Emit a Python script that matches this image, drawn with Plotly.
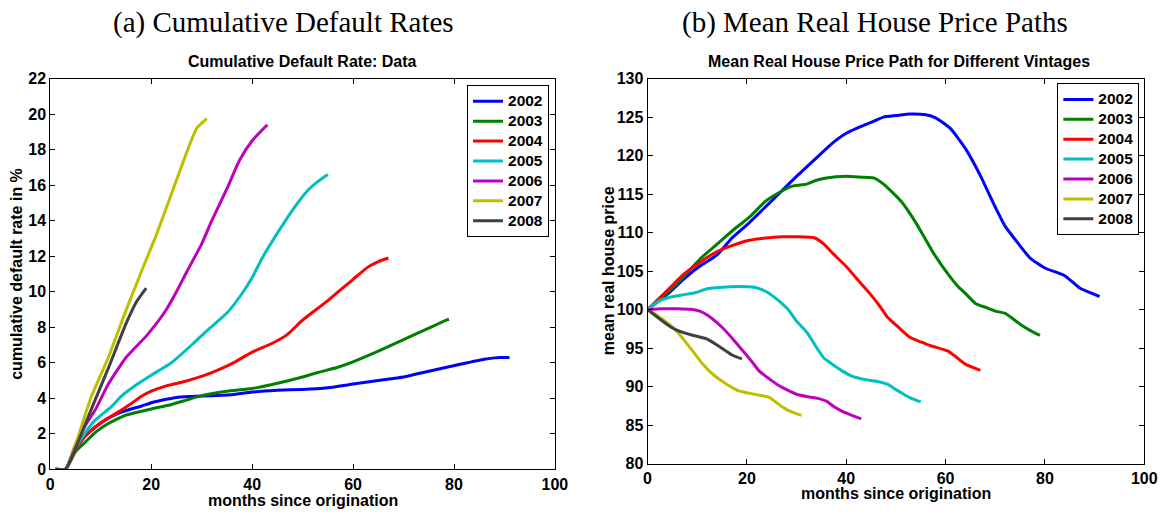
import plotly.graph_objects as go

W, H = 1176, 518

years = ["2002", "2003", "2004", "2005", "2006", "2007", "2008"]
colors = ["#0000FF", "#008000", "#FF0000", "#00BFBF", "#BF00BF", "#BFBF00", "#404040"]

# ---- Panel (a): cumulative default rate (%) by months since origination
def_m_2002 = [1, 3, 5, 7, 9, 11, 13, 16, 18, 20, 23, 25, 28, 32, 36, 40, 45, 50, 55, 60, 65, 70, 73, 77, 81, 86, 89, 91]
def_v_2002 = [0, 0, 1.1, 1.9, 2.4, 2.8, 3.1, 3.4, 3.55, 3.75, 3.95, 4.05, 4.1, 4.15, 4.2, 4.35, 4.45, 4.5, 4.6, 4.8, 5.0, 5.2, 5.4, 5.65, 5.9, 6.2, 6.3, 6.3]
def_m_2003 = [1, 3, 5, 7, 9, 11, 13, 15, 17, 20, 24, 27, 30, 35, 40, 45, 50, 53, 57, 60, 65, 70, 75, 78, 79]
def_v_2003 = [0, 0, 1.0, 1.55, 2.1, 2.5, 2.8, 3.05, 3.2, 3.4, 3.65, 3.9, 4.15, 4.4, 4.55, 4.85, 5.2, 5.45, 5.75, 6.05, 6.65, 7.3, 7.95, 8.35, 8.45]
def_m_2004 = [1, 3, 5, 7, 9, 11, 13, 16, 18, 20, 23, 26, 29, 32, 36, 40, 44, 47, 50, 55, 60, 63, 65, 67]
def_v_2004 = [0, 0, 1.1, 1.9, 2.4, 2.8, 3.15, 3.7, 4.1, 4.4, 4.7, 4.9, 5.15, 5.45, 5.95, 6.6, 7.1, 7.6, 8.4, 9.5, 10.7, 11.4, 11.7, 11.9]
def_m_2005 = [1, 3, 5, 7, 9, 12, 14, 17, 20, 24, 28, 31, 35, 38, 40, 42, 45, 48, 51, 53, 55]
def_v_2005 = [0, 0, 1.2, 2.1, 2.8, 3.5, 4.1, 4.75, 5.3, 6.0, 7.0, 7.8, 8.8, 9.9, 10.8, 11.9, 13.3, 14.6, 15.7, 16.2, 16.6]
def_m_2006 = [1, 3, 5, 7, 9, 11.5, 15, 19, 21, 23, 25, 27, 30, 32, 35, 37.5, 40, 43]
def_v_2006 = [0, 0, 1.4, 2.5, 3.4, 4.8, 6.3, 7.5, 8.2, 9.0, 10.0, 11.1, 12.7, 14.0, 15.8, 17.4, 18.5, 19.4]
def_m_2007 = [1, 3, 5, 8, 11.5, 15, 18, 21, 24.5, 27.5, 29, 31]
def_v_2007 = [0, 0, 1.4, 4.0, 6.3, 8.95, 11.1, 13.2, 15.9, 18.2, 19.2, 19.75]
def_m_2008 = [1, 3, 5, 8, 11.5, 15, 17, 19]
def_v_2008 = [0, 0, 1.2, 3.3, 5.7, 8.2, 9.4, 10.2]

# ---- Panel (b): mean real house price path (index, origination = 100)
hp_m_2002 = [0, 4, 7, 10, 14, 17, 20, 24, 27, 30, 34, 37, 40, 43, 45, 47.5, 50, 53, 56, 58, 61, 64, 67, 70, 72, 74, 77, 80, 84, 87, 91]
hp_v_2002 = [100, 102, 103.8, 105.4, 107.1, 109.3, 111.0, 113.5, 115.4, 117.3, 119.7, 121.5, 122.9, 123.8, 124.3, 125.0, 125.2, 125.4, 125.3, 124.9, 123.5, 120.9, 117.4, 113.3, 110.8, 109.1, 106.7, 105.4, 104.4, 102.8, 101.7]
hp_m_2003 = [0, 4, 7, 10.6, 14, 17.2, 20.5, 23.8, 26.5, 29, 32, 34, 36, 40, 43, 45.5, 47.5, 51, 54, 57.5, 60.5, 62.5, 64, 66, 68, 70, 72, 75, 77, 79]
hp_v_2003 = [100, 102.2, 104.1, 106.6, 108.5, 110.3, 112.0, 114.1, 115.2, 116.0, 116.3, 116.8, 117.1, 117.3, 117.2, 117.1, 116.3, 114.1, 111.3, 107.4, 104.6, 103.0, 102.1, 100.8, 100.3, 99.8, 99.5, 98.1, 97.3, 96.65]
hp_m_2004 = [0, 4, 7.3, 10, 13.9, 17, 20.5, 23.8, 27, 30, 33.7, 35.5, 37.6, 40, 42, 44.6, 46.8, 48.3, 50, 52.8, 55, 57, 60.5, 62, 64, 67]
hp_v_2004 = [100, 102.5, 104.6, 105.9, 107.5, 108.3, 109.0, 109.3, 109.45, 109.45, 109.3, 108.5, 107.1, 105.6, 104.1, 102.2, 100.4, 99.0, 98.0, 96.4, 95.8, 95.3, 94.6, 93.9, 92.9, 92.1]
hp_m_2005 = [0, 2, 4.5, 7, 9.7, 12, 15, 18, 21.5, 23, 24.5, 26.5, 28.3, 30, 32, 34.2, 35.5, 37.2, 39, 41, 43.9, 46, 48.3, 50, 51.3, 53, 55]
hp_v_2005 = [100, 101, 101.6, 101.9, 102.2, 102.7, 102.9, 103.0, 102.9, 102.6, 102.1, 101.1, 100.0, 98.5, 97.1, 94.9, 93.7, 92.9, 92.1, 91.4, 90.9, 90.7, 90.3, 89.6, 89.1, 88.5, 88.0]
hp_m_2006 = [0, 3, 6, 9, 10.5, 12, 15, 17.8, 20.8, 22.5, 24.5, 26.5, 28.3, 30, 32, 34, 36, 37.5, 39.4, 41, 43]
hp_v_2006 = [100, 100.1, 100.1, 100.0, 99.8, 99.3, 97.7, 95.7, 93.4, 92.0, 91.0, 90.1, 89.5, 89.0, 88.7, 88.5, 88.1, 87.4, 86.7, 86.3, 85.8]
hp_m_2007 = [0, 2, 4.5, 6, 7.5, 9, 10.5, 12, 13.5, 15, 17, 18.5, 21.5, 24.5, 26, 27.5, 29, 31]
hp_v_2007 = [100, 99.2, 98.0, 97.1, 95.9, 94.7, 93.4, 92.3, 91.4, 90.7, 89.9, 89.4, 89.0, 88.6, 87.9, 87.2, 86.7, 86.25]
hp_m_2008 = [0, 2, 4.5, 6, 8.9, 11.9, 13.5, 15.6, 17, 19]
hp_v_2008 = [100, 99.0, 97.8, 97.3, 96.7, 96.2, 95.6, 94.7, 94.1, 93.6]

def_series = [(def_m_2002, def_v_2002), (def_m_2003, def_v_2003), (def_m_2004, def_v_2004),
              (def_m_2005, def_v_2005), (def_m_2006, def_v_2006), (def_m_2007, def_v_2007),
              (def_m_2008, def_v_2008)]
hp_series = [(hp_m_2002, hp_v_2002), (hp_m_2003, hp_v_2003), (hp_m_2004, hp_v_2004),
             (hp_m_2005, hp_v_2005), (hp_m_2006, hp_v_2006), (hp_m_2007, hp_v_2007),
             (hp_m_2008, hp_v_2008)]

x_ticks = [0, 20, 40, 60, 80, 100]
def_ticks = list(range(0, 23, 2))
hp_ticks = list(range(80, 131, 5))

def leg_label(yr):
    return '<span style="font-size:15.5px">' + yr + '</span>'

fig = go.Figure()
for yr, c, (m, v) in zip(years, colors, def_series):
    fig.add_trace(go.Scatter(x=m, y=v, mode="lines", name=leg_label(yr),
                             line=dict(color=c, width=3, shape="spline", smoothing=0.5),
                             xaxis="x", yaxis="y", legend="legend"))
for yr, c, (m, v) in zip(years, colors, hp_series):
    fig.add_trace(go.Scatter(x=m, y=v, mode="lines", name=leg_label(yr),
                             line=dict(color=c, width=3, shape="spline", smoothing=0.5),
                             xaxis="x2", yaxis="y2", legend="legend2"))

SANS = "Liberation Sans, Arial, Helvetica, sans-serif"
SERIF = "Liberation Serif, Times New Roman, serif"
tickfont = dict(family=SANS, size=16, color="black", weight="bold")

def ax(**kw):
    d = dict(showline=True, linecolor="black", linewidth=1, mirror="ticks",
             ticks="inside", ticklen=5, tickcolor="black", showgrid=False,
             zeroline=False, tickfont=tickfont, fixedrange=True)
    d.update(kw)
    return d

py = lambda p: 1 - p / H
px = lambda p: p / W

L0, L1, LB = 47, 559, 477
R0, R1, RB = 653, 1157, 471
T = 73

legfont = dict(family=SANS, size=13, color="black", weight="bold")

fig.update_layout(
    width=W, height=H,
    margin=dict(l=0, r=0, t=0, b=0),
    paper_bgcolor="white", plot_bgcolor="white",
    xaxis=ax(domain=[px(L0), px(L1)], anchor="y", range=[0, 100], tickvals=x_ticks),
    yaxis=ax(domain=[py(LB), py(T)], anchor="x", range=[0, 22], tickvals=def_ticks),
    xaxis2=ax(domain=[px(R0), px(R1)], anchor="y2", range=[0, 100], tickvals=x_ticks),
    yaxis2=ax(domain=[py(RB), py(T)], anchor="x2", range=[80, 130], tickvals=hp_ticks),
    legend=dict(x=px(553), y=py(80), xanchor="right", yanchor="top",
                bordercolor="black", borderwidth=1, bgcolor="white",
                font=legfont, itemwidth=30, tracegroupgap=0),
    legend2=dict(x=px(1152), y=py(78), xanchor="right", yanchor="top",
                 bordercolor="black", borderwidth=1, bgcolor="white",
                 font=legfont, itemwidth=30, tracegroupgap=0),
    showlegend=True,
)

ann = []
def text(t, x, y, font, angle=0):
    ann.append(dict(text=t, x=px(x), y=py(y), xref="paper", yref="paper",
                    xanchor="center", yanchor="middle", showarrow=False,
                    textangle=angle, font=font))

capfont = dict(family=SERIF, size=29, color="black")
subfont = dict(family=SANS, size=16, color="black", weight="bold")
labfont = dict(family=SANS, size=16, color="black", weight="bold")

text("(a) Cumulative Default Rates", 284, 15, capfont)
text("(b) Mean Real House Price Paths", 884, 15, capfont)
text("Cumulative Default Rate: Data", (L0 + L1) / 2, 55, subfont)
text("Mean Real House Price Path for Different Vintages", 908, 55, subfont)
text("months since origination", (L0 + L1) / 2, 509, labfont)
text("months since origination", (R0 + R1) / 2, 502, labfont)
text("cumulative default rate in %", 13, (T + LB) / 2, labfont, -90)
text("mean real house price", 613, (T + RB) / 2, labfont, -90)
fig.update_layout(annotations=ann)

fig.write_html("out.html",
               config={"displayModeBar": False},
               post_script="document.body.style.margin='0px';document.body.style.overflow='hidden';")
